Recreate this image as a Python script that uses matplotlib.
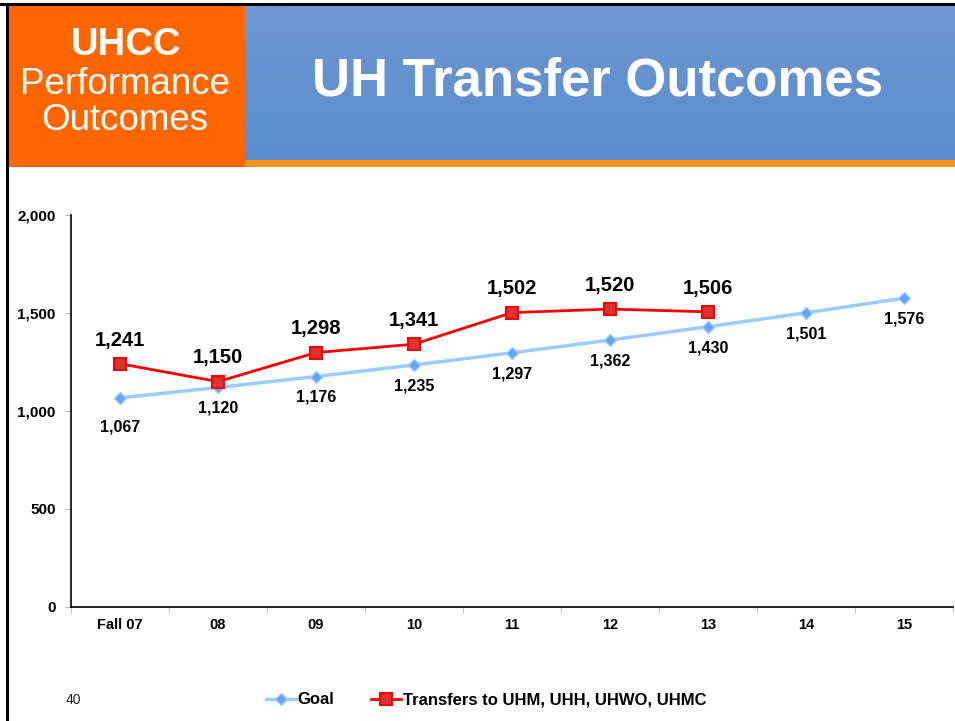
"""
UH Transfer Outcomes: réplica de la diapositiva UHCC Performance Outcomes.
"""

import numpy as np
import matplotlib.pyplot as plt
from matplotlib.patches import Rectangle

plt.rcParams['font.family'] = ['Liberation Sans', 'DejaVu Sans']

# ==============================================================================
# DATOS
# ==============================================================================
categories = ['Fall 07', '08', '09', '10', '11', '12', '13', '14', '15']
goal = [1067, 1120, 1176, 1235, 1297, 1362, 1430, 1501, 1576]
transfers = [1241, 1150, 1298, 1341, 1502, 1520, 1506]
y_ticks = [0, 500, 1000, 1500, 2000]

goal_label = 'Goal'
transfers_label = 'Transfers to UHM, UHH, UHWO, UHMC'
header_title = 'UH Transfer Outcomes'
page_number = '40'

# ==============================================================================
# FIGURA Y CABECERA
# ==============================================================================
W, H = 955, 721
fig = plt.figure(figsize=(W / 100, H / 100), dpi=100)
fig.patch.set_facecolor('white')


def px_rect(x0, y0, x1, y1, **kw):
    """Rectángulo en píxeles (origen arriba-izquierda)."""
    r = Rectangle((x0 / W, 1 - y1 / H), (x1 - x0) / W, (y1 - y0) / H,
                  transform=fig.transFigure, **kw)
    fig.add_artist(r)
    return r


# Banda azul con degradado
ax_bg = fig.add_axes([245 / W, 1 - 160 / H, (W - 245) / W, (160 - 6) / H])
grad = np.linspace(0, 1, 256).reshape(-1, 1)
top = np.array([0x6e, 0x98, 0xd3]) / 255
bottom = np.array([0x5a, 0x8c, 0xcc]) / 255
img = top + (bottom - top) * grad[..., None]
img = np.repeat(img, 2, axis=1)
ax_bg.imshow(img, aspect='auto', extent=[0, 1, 0, 1])
ax_bg.set_axis_off()

px_rect(245, 160, W, 167, facecolor='#f7941d', edgecolor='none')
px_rect(8, 6, 245, 167, facecolor='#ff6600', edgecolor='none')
px_rect(0, 3, W, 6, facecolor='black', edgecolor='none')
px_rect(6, 3, 9, H, facecolor='black', edgecolor='none')

fig.text(126 / W, 1 - 45 / H, 'UHCC', color='white', fontsize=27.5,
         fontweight='bold', ha='center', va='center')
fig.text(125 / W, 1 - 84 / H, 'Performance', color='white', fontsize=26.5,
         ha='center', va='center')
fig.text(125 / W, 1 - 120 / H, 'Outcomes', color='white', fontsize=26.5,
         ha='center', va='center')
fig.text(597 / W, 1 - 81 / H, header_title, color='white', fontsize=38,
         fontweight='bold', ha='center', va='center')

# ==============================================================================
# GRÁFICO
# ==============================================================================
ax = fig.add_axes([71 / W, 1 - 607 / H, (953 - 71) / W, (607 - 215) / H])

x_goal = np.arange(len(goal))
x_tr = np.arange(len(transfers))

ax.plot(x_goal, goal, color='#99ccff', linewidth=2.5, marker='D',
        markersize=6.5, markerfacecolor='#66a3ff', markeredgecolor='#99ccff',
        markeredgewidth=1, label=goal_label, zorder=3)
ax.plot(x_tr, transfers, color='#ff0000', linewidth=2, marker='s',
        markersize=8.5, markerfacecolor='#dd3333', markeredgecolor='#ff0000',
        markeredgewidth=1.5, label=transfers_label, zorder=4)

for i, v in enumerate(goal):
    off = -21 if i == 0 else -15
    ax.annotate(f'{v:,}', (i, v), xytext=(0, off), textcoords='offset points',
                ha='center', va='center', fontsize=11.5, fontweight='bold')
for i, v in enumerate(transfers):
    ax.annotate(f'{v:,}', (i, v), xytext=(0, 17), textcoords='offset points',
                ha='center', va='center', fontsize=14.5, fontweight='bold')

ax.set_xlim(-0.5, len(categories) - 0.5)
ax.set_ylim(0, 2000)
ax.set_yticks(y_ticks)
ax.set_yticklabels([f'{t:,}' for t in y_ticks], fontsize=11, fontweight='bold')
ax.set_xticks(np.arange(len(categories)))
ax.set_xticklabels(categories, fontsize=10.5, fontweight='bold')
ax.set_xticks(np.arange(len(categories) + 1) - 0.5, minor=True)
ax.tick_params(axis='x', which='major', length=0, pad=8)
ax.tick_params(axis='x', which='minor', length=4, color='#bbbbbb', direction='out')
ax.tick_params(axis='y', length=4, color='#bbbbbb', direction='out', pad=7)

for s in ['top', 'right']:
    ax.spines[s].set_visible(False)
for s in ['left', 'bottom']:
    ax.spines[s].set_color('black')
    ax.spines[s].set_linewidth(1.2)

fig.legend(loc='center', bbox_to_anchor=(486 / W, 1 - 700 / H), ncol=2,
           frameon=False, prop={'size': 12, 'weight': 'bold'},
           handlelength=1.8, handletextpad=0.1, columnspacing=2.2)

fig.text(73 / W, 1 - 700 / H, page_number, fontsize=10, color='#222222',
         ha='center', va='center')

plt.savefig('out.png', dpi=100)
plt.close()
